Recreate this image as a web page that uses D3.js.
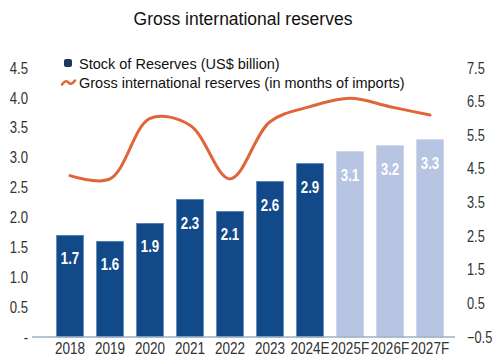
<!DOCTYPE html>
<html>
<head>
<meta charset="utf-8">
<script src="https://cdn.jsdelivr.net/npm/d3@7"></script>
<style>
  html, body { margin: 0; padding: 0; background: #fff; }
  svg { display: block; }
  svg text { font-family: "Liberation Sans", Arial, Helvetica, sans-serif; }
</style>
</head>
<body>
<svg id="chart" width="493" height="357"></svg>
<script>
// Years, with estimates (E) and forecasts (F)
const categories = ["2018", "2019", "2020", "2021", "2022", "2023", "2024E", "2025F", "2026F", "2027F"];
// Stock of reserves, US$ billion
const stockValues = [1.7, 1.6, 1.9, 2.3, 2.1, 2.6, 2.9, 3.1, 3.2, 3.3];
// Gross international reserves, months of imports
const monthsValues = [4.3, 4.2, 6.0, 5.8, 4.2, 5.9, 6.35, 6.6, 6.35, 6.1];
// Which years are projections (drawn in the lighter shade)
const projected = [false, false, false, false, false, false, false, true, true, true];
const leftTicks = [0, 0.5, 1.0, 1.5, 2.0, 2.5, 3.0, 3.5, 4.0, 4.5];
const rightTicks = [-0.5, 0.5, 1.5, 2.5, 3.5, 4.5, 5.5, 6.5, 7.5];

const svg = d3.select("#chart");

// Squeeze text horizontally to get a narrow face from the regular one
function narrow(sel, sx = 0.82) {
  sel.each(function () {
    const t = d3.select(this);
    const tx = +t.attr("x") || 0;
    const ty = +t.attr("y") || 0;
    t.attr("x", 0).attr("y", 0).attr("transform", `translate(${tx},${ty}) scale(${sx},1)`);
  });
}

const x = d3.scaleBand().domain(categories).range([50, 450]).paddingInner(0.333).paddingOuter(0.1665);
const yLeft = d3.scaleLinear().domain([0, 4.5]).range([337, 68]);
const yRight = d3.scaleLinear().domain([-0.5, 7.5]).range([337, 68]);

// Title
svg.append("text")
  .attr("x", 243).attr("y", 25).attr("text-anchor", "middle")
  .attr("font-size", 17.5).attr("fill", "#111")
  .text("Gross international reserves");

// Legend
const legend = svg.append("g").attr("font-size", 14.5).attr("fill", "#111");
legend.append("rect").attr("x", 64).attr("y", 59).attr("width", 8).attr("height", 8)
  .attr("rx", 2).attr("fill", "#1d3a5e");
legend.append("text").attr("x", 79).attr("y", 68.5).text("Stock of Reserves (US$ billion)");
legend.append("path")
  .attr("d", "M62,84.5 C65,80.5 67,80.5 68.5,82.5 C70,84.5 72,84.5 75,80.5")
  .attr("fill", "none").attr("stroke", "#e0653a").attr("stroke-width", 2.6).attr("stroke-linecap", "round");
legend.append("text").attr("x", 79).attr("y", 88).text("Gross international reserves (in months of imports)");

// Bars
const bars = svg.append("g");
bars.selectAll("rect").data(categories).join("rect")
  .attr("x", d => x(d))
  .attr("width", x.bandwidth())
  .attr("y", (d, i) => yLeft(stockValues[i]))
  .attr("height", (d, i) => yLeft(0) - yLeft(stockValues[i]))
  .attr("fill", (d, i) => projected[i] ? "#b7c5e3" : "#124a89")
  .attr("stroke", (d, i) => projected[i] ? "#c3cfe8" : "#4f7bb3")
  .attr("stroke-width", 0.8);

// Value labels inside the bars
bars.selectAll("text").data(categories).join("text")
  .attr("x", d => x(d) + x.bandwidth() / 2)
  .attr("y", (d, i) => yLeft(stockValues[i]) + 29)
  .attr("text-anchor", "middle")
  .attr("font-size", 17).attr("font-weight", "bold").attr("fill", "#fff")
  .text((d, i) => stockValues[i].toFixed(1))
  .call(narrow, 0.78);

// Baseline
svg.append("line").attr("x1", 32).attr("x2", 455)
  .attr("y1", yLeft(0)).attr("y2", yLeft(0))
  .attr("stroke", "#9db1c6").attr("stroke-width", 1.5);

// Left axis (US$ billion)
const leftAxis = d3.axisLeft(yLeft).tickValues(leftTicks).tickSize(0).tickPadding(0)
  .tickFormat(v => v === 0 ? "-" : d3.format(".1f")(v));
svg.append("g").attr("transform", "translate(28,0)").call(leftAxis)
  .call(g => g.select(".domain").remove())
  .call(g => g.selectAll("text").attr("font-size", 16).attr("fill", "#333")
    .style("font-family", "'Liberation Sans', Arial, sans-serif").call(narrow));

// Right axis (months of imports)
const rightAxis = d3.axisRight(yRight).tickValues(rightTicks).tickSize(0).tickPadding(0)
  .tickFormat(d3.format(".1f"));
svg.append("g").attr("transform", "translate(467,0)").call(rightAxis)
  .call(g => g.select(".domain").remove())
  .call(g => g.selectAll("text").attr("font-size", 16).attr("fill", "#333")
    .style("font-family", "'Liberation Sans', Arial, sans-serif").call(narrow, 0.8));

// Category axis
const xAxis = d3.axisBottom(x).tickSize(0).tickPadding(0);
svg.append("g").attr("transform", "translate(0,342)").call(xAxis)
  .call(g => g.select(".domain").remove())
  .call(g => g.selectAll("text").attr("font-size", 16.5).attr("fill", "#333")
    .style("font-family", "'Liberation Sans', Arial, sans-serif").call(narrow));

// Smoothed months-of-imports line
const line = d3.line()
  .x((d, i) => x(categories[i]) + x.bandwidth() / 2)
  .y(d => yRight(d))
  .curve(d3.curveCatmullRom.alpha(0.5));
svg.append("path").datum(monthsValues)
  .attr("d", line)
  .attr("fill", "none").attr("stroke", "#e0653a").attr("stroke-width", 3)
  .attr("stroke-linecap", "round");
</script>
</body>
</html>
